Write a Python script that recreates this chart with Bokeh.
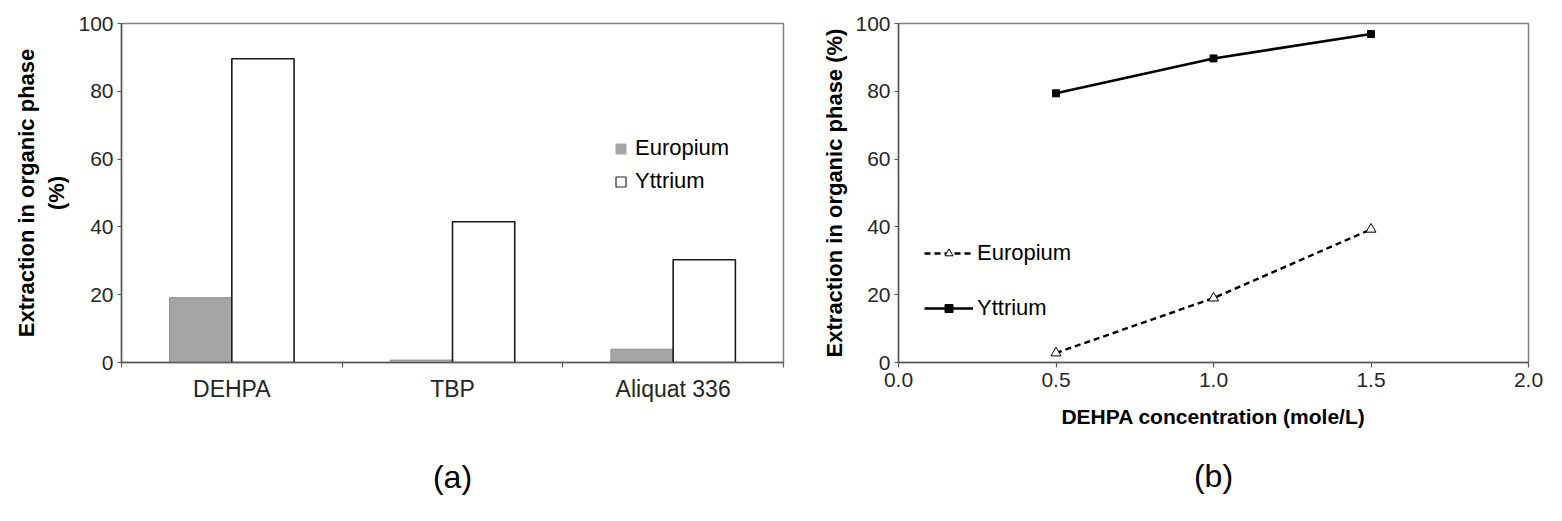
from bokeh.plotting import figure
from bokeh.layouts import row
from bokeh.models import (Range1d, FixedTicker, Legend, LegendItem, Title,
                          ColumnDataSource, NumeralTickFormatter)
from bokeh.transform import dodge
from bokeh.embed import file_html
from bokeh.resources import INLINE

# ---------------- data ----------------
categories = ["DEHPA", "TBP", "Aliquat 336"]
europium_a = [19.1, 0.7, 3.9]
yttrium_a = [89.6, 41.5, 30.3]

conc_b = [0.5, 1.0, 1.5]
europium_b = [2.8, 19.0, 39.3]
yttrium_b = [79.4, 89.7, 96.9]

y_ticks = [0, 20, 40, 60, 80, 100]
x_ticks_b = [0.0, 0.5, 1.0, 1.5, 2.0]

FONT = "Liberation Sans"
AXIS_COL = "#595959"
OUTLINE_COL = "#7f7f7f"
TICK_TXT = "#262626"
GRAY = "#a5a5a5"
NAN = float("nan")


def style_common(p):
    p.xgrid.visible = False
    p.ygrid.visible = False
    p.outline_line_color = OUTLINE_COL
    p.outline_line_width = 1.5
    p.background_fill_color = "white"
    p.border_fill_color = "white"
    for ax in (p.xaxis[0], p.yaxis[0]):
        ax.axis_line_color = AXIS_COL
        ax.axis_line_width = 1.5
        ax.major_tick_line_color = AXIS_COL
        ax.major_tick_line_width = 1.2
        ax.minor_tick_line_color = None
        ax.major_tick_in = 0
        ax.major_label_text_font = FONT
        ax.major_label_text_color = TICK_TXT
        ax.axis_label_text_font = FONT
        ax.axis_label_text_color = "black"


# ---------------- panel (a) ----------------
pos = [i + 0.5 for i in range(len(categories))]
src_a = ColumnDataSource(dict(pos=pos, eu=europium_a, yt=yttrium_a))

p1 = figure(width=790, height=519, x_range=Range1d(0, len(categories)),
            y_range=Range1d(0, 100), output_backend="svg", toolbar_location=None,
            min_border_left=121, min_border_right=7, min_border_top=22,
            min_border_bottom=157)
style_common(p1)

p1.vbar(x=dodge("pos", -0.141), top="eu", width=0.282, source=src_a,
        fill_color=GRAY, line_color="#8c8c8c", line_width=1)
p1.vbar(x=dodge("pos", 0.141), top="yt", width=0.282, source=src_a,
        fill_color="white", line_color="#1a1a1a", line_width=1.6)

xa = p1.xaxis[0]
xa.ticker = FixedTicker(ticks=pos, minor_ticks=list(range(len(categories) + 1)))
xa.major_label_overrides = dict(zip(pos, categories))
xa.major_tick_line_color = None
xa.major_tick_out = 0
xa.minor_tick_line_color = AXIS_COL
xa.minor_tick_line_width = 1.2
xa.minor_tick_out = 5
xa.minor_tick_in = 0
xa.major_label_text_font_size = "23px"
xa.major_label_standoff = 8
xa.axis_label = "(a)"
xa.axis_label_text_font_size = "32px"
xa.axis_label_text_font_style = "normal"
xa.axis_label_standoff = 54

ya = p1.yaxis[0]
ya.ticker = FixedTicker(ticks=y_ticks)
ya.major_tick_out = 4
ya.major_label_standoff = 4
ya.major_label_text_font_size = "21px"
ya.axis_label = "Extraction in organic phase\n(%)"
ya.axis_label_text_font_size = "22px"
ya.axis_label_text_font_style = "bold"
ya.axis_label_text_line_height = 1.22
ya.axis_label_standoff = 6

# legend proxies (not drawn in the plot area)
leg_eu = p1.scatter(x=[pos[0]], y=[NAN], marker="square", fill_color=GRAY,
                    line_color=GRAY)
leg_yt = p1.scatter(x=[pos[0]], y=[NAN], marker="square", fill_color="white",
                    line_color="#262626", line_width=1.2)
legend_a = Legend(items=[LegendItem(label="Europium", renderers=[leg_eu]),
                         LegendItem(label="Yttrium", renderers=[leg_yt])],
                  location=(487, 168), glyph_width=25, glyph_height=25,
                  label_height=25, label_standoff=2, spacing=7, padding=0,
                  margin=0, border_line_color=None, background_fill_alpha=0,
                  label_text_font=FONT, label_text_font_size="22px",
                  label_text_color="black")
p1.add_layout(legend_a)

# ---------------- panel (b) ----------------
p2 = figure(width=758, height=519, x_range=Range1d(0, 2), y_range=Range1d(0, 100),
            output_backend="svg", toolbar_location=None,
            min_border_left=108, min_border_right=20, min_border_top=23,
            min_border_bottom=156)
style_common(p2)

src_b = ColumnDataSource(dict(x=conc_b, eu=europium_b, yt=yttrium_b))
l_eu = p2.line("x", "eu", source=src_b, line_color="black", line_width=2.4,
               line_dash="6 4")
m_eu = p2.scatter("x", "eu", source=src_b, marker="triangle", size=10,
                  fill_color="white", line_color="black", line_width=1)
l_yt = p2.line("x", "yt", source=src_b, line_color="black", line_width=2.6)
m_yt = p2.scatter("x", "yt", source=src_b, marker="square", size=7,
                  fill_color="black", line_color="black")

xb = p2.xaxis[0]
xb.ticker = FixedTicker(ticks=x_ticks_b)
xb.formatter = NumeralTickFormatter(format="0.0")
xb.major_tick_out = 5
xb.major_label_standoff = 5
xb.major_label_text_font_size = "21px"
xb.axis_label = "DEHPA concentration (mole/L)"
xb.axis_label_text_font_size = "21px"
xb.axis_label_text_font_style = "bold"
xb.axis_label_standoff = 15

yb = p2.yaxis[0]
yb.ticker = FixedTicker(ticks=y_ticks)
yb.major_tick_out = 4
yb.major_label_standoff = 4
yb.major_label_text_font_size = "21px"
yb.axis_label = "Extraction in organic phase (%)"
yb.axis_label_text_font_size = "22px"
yb.axis_label_text_font_style = "bold"
yb.axis_label_standoff = 5

legend_b = Legend(items=[LegendItem(label="Europium", renderers=[l_eu, m_eu]),
                         LegendItem(label="Yttrium", renderers=[l_yt, m_yt])],
                  location=(26, 41), glyph_width=49, glyph_height=20,
                  label_height=20, label_standoff=4, spacing=29, padding=0,
                  margin=0, border_line_color=None, background_fill_alpha=0,
                  label_text_font=FONT, label_text_font_size="22px",
                  label_text_color="black")
p2.add_layout(legend_b)

p2.add_layout(Title(text="(b)", align="center", text_font=FONT,
                    text_font_size="32px", text_font_style="normal",
                    text_color="black", standoff=50), "below")

layout = row(p1, p2)
open("out.html", "w").write(file_html(layout, INLINE))
